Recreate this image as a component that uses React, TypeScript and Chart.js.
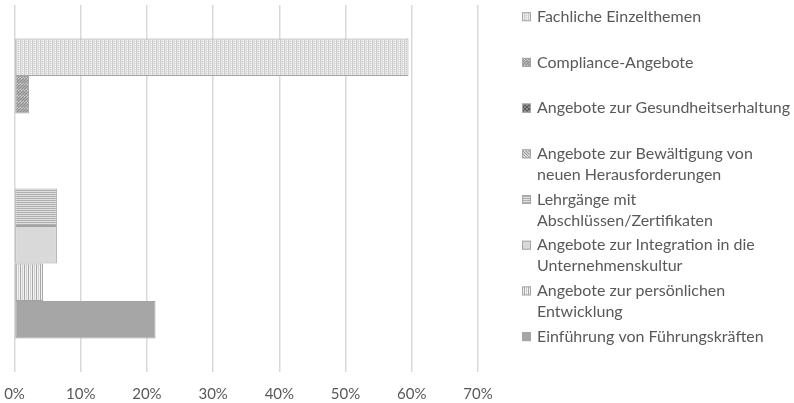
import React, { useEffect, useRef } from "react";
import { Chart, registerables } from "chart.js";

Chart.register(...registerables);

const categories = [""];
const seriesLabels = [
  "Fachliche Einzelthemen",
  "Compliance-Angebote",
  "Angebote zur Gesundheitserhaltung",
  "Angebote zur Bewältigung von neuen Herausforderungen",
  "Lehrgänge mit Abschlüssen/Zertifikaten",
  "Angebote zur Integration in die Unternehmenskultur",
  "Angebote zur persönlichen Entwicklung",
  "Einführung von Führungskräften",
];
const legendLines = [
  ["Fachliche Einzelthemen"],
  ["Compliance-Angebote"],
  ["Angebote zur Gesundheitserhaltung"],
  ["Angebote zur Bewältigung von", "neuen Herausforderungen"],
  ["Lehrgänge mit", "Abschlüssen/Zertifikaten"],
  ["Angebote zur Integration in die", "Unternehmenskultur"],
  ["Angebote zur persönlichen", "Entwicklung"],
  ["Einführung von Führungskräften"],
];
const seriesValues = [59.5, 2.2, 0, 0, 6.4, 6.4, 4.3, 21.3];
const patternTypes = [
  "dots",
  "updiag",
  "checker",
  "downdiag",
  "hlines",
  "solidLight",
  "vlines",
  "solidDark",
];
const xTicks = [0, 10, 20, 30, 40, 50, 60, 70];

function makePattern(type: string): CanvasPattern | string {
  const c = document.createElement("canvas");
  const size = type === "updiag" || type === "downdiag" ? 6 : 4;
  c.width = size;
  c.height = size;
  const g = c.getContext("2d")!;
  if (type === "solidLight") return "#d9d9d9";
  if (type === "solidDark") return "#a6a6a6";
  if (type === "dots") {
    g.fillStyle = "#e6e6e6";
    g.fillRect(0, 0, 4, 4);
    g.fillStyle = "#cdcdcd";
    g.fillRect(0, 0, 1, 4);
    g.fillRect(2, 1, 1, 1);
    g.fillRect(2, 3, 1, 1);
    g.fillStyle = "#f4f4f4";
    g.fillRect(3, 0, 1, 1);
    g.fillRect(3, 2, 1, 1);
  } else if (type === "updiag") {
    g.fillStyle = "#f4f4f4";
    g.fillRect(0, 0, 6, 6);
    g.strokeStyle = "#8e8e8e";
    g.lineWidth = 1.6;
    g.beginPath();
    for (let k = -6; k <= 12; k += 3) {
      g.moveTo(k, 6);
      g.lineTo(k + 6, 0);
    }
    g.stroke();
  } else if (type === "downdiag") {
    g.fillStyle = "#ffffff";
    g.fillRect(0, 0, 6, 6);
    g.strokeStyle = "#9a9a9a";
    g.lineWidth = 1.3;
    g.beginPath();
    for (let k = -6; k <= 12; k += 3) {
      g.moveTo(k, 0);
      g.lineTo(k + 6, 6);
    }
    g.stroke();
  } else if (type === "checker") {
    g.fillStyle = "#8a8a8a";
    g.fillRect(0, 0, 4, 4);
    g.fillStyle = "#5a5a5a";
    g.fillRect(0, 0, 2, 2);
    g.fillRect(2, 2, 2, 2);
  } else if (type === "hlines") {
    g.fillStyle = "#dedede";
    g.fillRect(0, 0, 4, 4);
    g.fillStyle = "#b0b0b0";
    g.fillRect(0, 0, 4, 1);
    g.fillRect(0, 2, 4, 1);
  } else if (type === "vlines") {
    g.fillStyle = "#f2f2f2";
    g.fillRect(0, 0, 4, 4);
    g.fillStyle = "#a8a8a8";
    g.fillRect(0, 0, 1, 4);
    g.fillStyle = "#cfcfcf";
    g.fillRect(2, 0, 1, 4);
  }
  return g.createPattern(c, "repeat")!;
}

const FONT = "Lato, 'Open Sans', sans-serif";

const legendPlugin = {
  id: "customLegend",
  afterDraw(chart: any) {
    const ctx = chart.ctx as CanvasRenderingContext2D;
    const x0 = 522;
    const textX = 537;
    const firstY = 16.7;
    const step = 45.7;
    const lineH = 21;
    ctx.save();
    ctx.font = `16px ${FONT}`;
    ctx.textBaseline = "middle";
    ctx.textAlign = "left";
    chart.data.datasets.forEach((ds: any, i: number) => {
      const y = firstY + i * step;
      ctx.fillStyle = ds.backgroundColor;
      ctx.fillRect(x0, y - 4.5, 9, 9);
      ctx.strokeStyle = "#a6a6a6";
      ctx.lineWidth = 1;
      ctx.strokeRect(x0 + 0.5, y - 4, 8, 8);
      ctx.fillStyle = "#595959";
      legendLines[i].forEach((line, j) => {
        ctx.fillText(line, textX, y + j * lineH);
      });
    });
    ctx.restore();
  },
};

export default function App() {
  const ref = useRef<HTMLCanvasElement>(null);
  useEffect(() => {
    const canvas = ref.current!;
    const chart = new Chart(canvas, {
      type: "bar",
      data: {
        labels: categories,
        datasets: seriesLabels.map((label, i) => ({
          label,
          data: [seriesValues[i]],
          backgroundColor: makePattern(patternTypes[i]) as any,
          borderColor: "#a3a3a3",
          borderWidth: 1,
          borderSkipped: false,
        })),
      },
      options: {
        indexAxis: "y",
        animation: false,
        responsive: false,
        maintainAspectRatio: false,
        layout: { padding: { left: 14.5, right: 316, top: 5, bottom: 0 } },
        datasets: {
          bar: { barPercentage: 1, categoryPercentage: 0.817 },
        },
        plugins: {
          legend: { display: false },
          tooltip: { enabled: false },
        },
        scales: {
          x: {
            min: 0,
            max: 70,
            afterBuildTicks: (axis: any) => {
              axis.ticks = xTicks.map((v) => ({ value: v }));
            },
            ticks: {
              callback: (v: any) => `${v}%`,
              color: "#595959",
              font: { family: FONT, size: 15 },
              padding: 0,
            },
            grid: {
              color: "#d9d9d9",
              lineWidth: 1.5,
              drawTicks: true,
              tickLength: 13,
              tickColor: "rgba(0,0,0,0)",
            },
            border: { display: false },
          },
          y: { display: false },
        },
      },
      plugins: [legendPlugin],
    });
    return () => chart.destroy();
  }, []);
  return (
    <div style={{ position: "fixed", left: 0, top: 0, width: 794, height: 403, background: "#fff" }}>
      <canvas ref={ref} width={794} height={403} style={{ width: 794, height: 403 }} />
    </div>
  );
}
